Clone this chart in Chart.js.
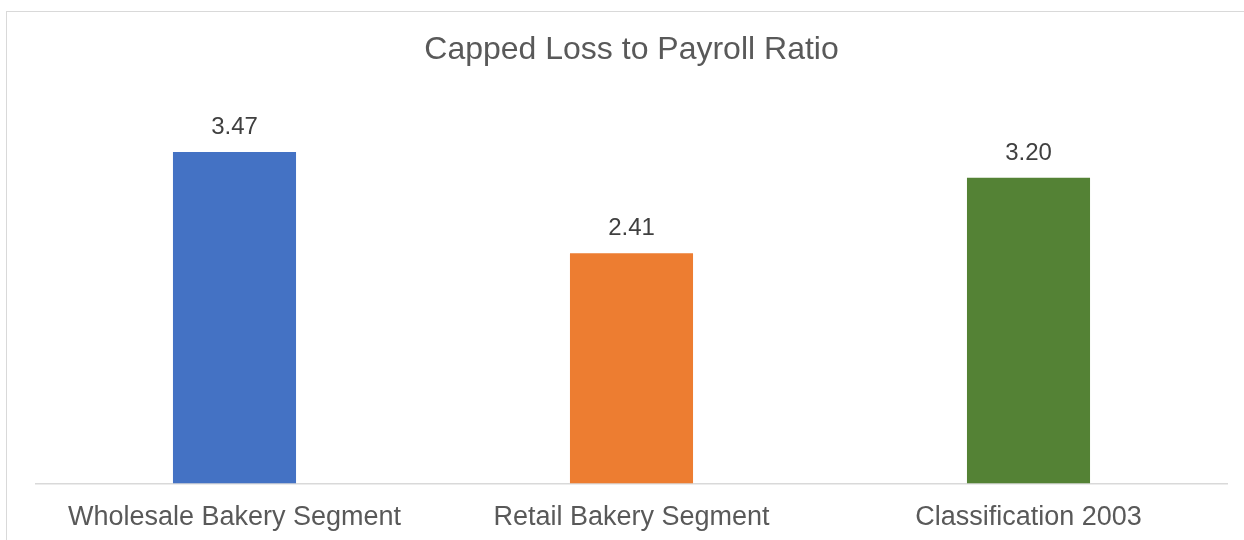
<!DOCTYPE html>
<html>
<head>
<meta charset="utf-8">
<script src="https://cdn.jsdelivr.net/npm/chart.js@4/dist/chart.umd.min.js"></script>
<style>
  html, body { margin: 0; padding: 0; background: #fff; }
  #wrap { position: relative; width: 1244px; height: 540px; overflow: hidden; }
  #frame { position: absolute; left: 6px; top: 11px; width: 1300px; height: 600px;
           border-left: 1.5px solid #d9d9d9; border-top: 1.5px solid #d9d9d9; }
  #ratio-chart { position: absolute; left: 0; top: 0; width: 1244px; height: 552px; }
</style>
</head>
<body>
<div id="wrap">
  <div id="frame"></div>
  <!-- a little taller than the frame so the category labels sit low -->
  <canvas id="ratio-chart" width="1244" height="552"></canvas>
</div>
<script>
const categories = ['Wholesale Bakery Segment', 'Retail Bakery Segment', 'Classification 2003'];
const ratios = [3.47, 2.41, 3.20];
const barColors = ['#4472C4', '#ED7D31', '#548235'];

const textColor = '#595959';
const fontFamily = 'Arial, "Liberation Sans", sans-serif';

// writes each bar's value just above it
const valueLabels = {
  id: 'valueLabels',
  afterDatasetsDraw(chart) {
    const ctx = chart.ctx;
    const meta = chart.getDatasetMeta(0);
    ctx.save();
    ctx.font = '24px ' + fontFamily;
    ctx.fillStyle = '#404040';
    ctx.textAlign = 'center';
    ctx.textBaseline = 'alphabetic';
    meta.data.forEach(function (bar, i) {
      ctx.fillText(ratios[i].toFixed(2), bar.x, bar.y - 18);
    });
    ctx.restore();
  }
};

const ctx1 = document.getElementById('ratio-chart');
const ratioChart = new Chart(ctx1, {
  type: 'bar',
  data: {
    labels: categories,
    datasets: [{
      label: 'Capped Loss to Payroll Ratio',
      data: ratios,
      backgroundColor: barColors,
      barPercentage: 0.31,
      categoryPercentage: 1
    }]
  },
  options: {
    responsive: false,
    animation: false,
    layout: {
      padding: { left: 36, right: 17, top: 31, bottom: 0 }
    },
    plugins: {
      legend: { display: false },
      tooltip: { enabled: false },
      title: {
        display: true,
        text: 'Capped Loss to Payroll Ratio',
        color: textColor,
        font: { family: fontFamily, size: 32, weight: 'normal' },
        padding: { top: 0, bottom: 32 }
      }
    },
    scales: {
      x: {
        grid: { display: false, drawTicks: false },
        border: { display: true, color: '#d9d9d9', width: 1.5 },
        ticks: {
          color: textColor,
          padding: 18,
          maxRotation: 0,
          font: { family: fontFamily, size: 27 }
        }
      },
      y: {
        display: false,
        min: 0,
        max: 4
      }
    }
  },
  plugins: [valueLabels]
});
</script>
</body>
</html>
